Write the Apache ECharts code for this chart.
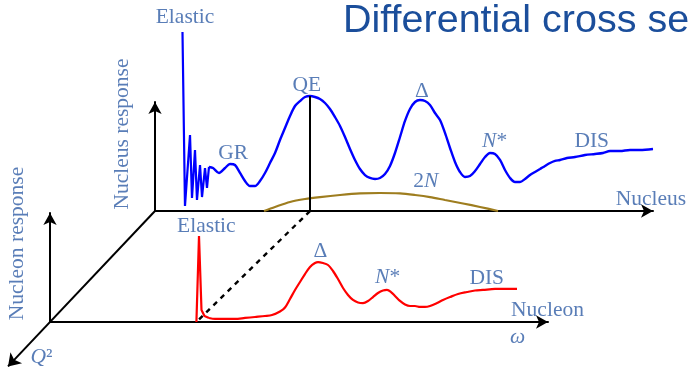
<!DOCTYPE html>
<html><head><meta charset="utf-8">
<script src="https://cdn.jsdelivr.net/npm/echarts@6/dist/echarts.min.js"></script>
<style>html,body{margin:0;padding:0;background:#fff}#c{width:689px;height:369px}</style>
</head><body><div id="c"></div>
<script>
// ---- Nucleus response (back plane): energy transfer omega vs response, axis units 0..100
const nucleusElasticOmega = [5.52, 6.02, 7.03, 7.43, 8.03, 8.43, 9.04, 9.44, 10.04, 10.44, 10.84];
const nucleusElasticResp  = [164.2, 4.6, 69.7, 11.9, 56.0, 10.1, 42.2, 12.8, 39.4, 21.1, 40.4];
const nucleusOmega = [10.84, 11.65, 12.85, 14.06, 15.06, 16.06, 17.07, 18.07, 19.08, 20.08, 21.08, 22.09, 23.09, 24.10, 25.10, 26.10, 27.11, 28.11, 29.12, 30.12, 31.12, 32.13, 33.13, 34.14, 35.14, 36.14, 37.15, 38.15, 39.16, 40.16, 41.16, 42.17, 43.17, 44.18, 45.18, 46.18, 47.19, 48.19, 49.20, 50.20, 51.20, 52.21, 53.21, 54.22, 55.22, 56.22, 57.23, 58.23, 59.24, 60.24, 61.24, 62.25, 63.25, 64.26, 65.26, 66.27, 67.27, 68.27, 69.28, 70.28, 71.29, 72.29, 73.29, 74.30, 75.30, 76.31, 77.31, 78.31, 79.32, 80.32, 81.33, 82.73, 84.34, 86.35, 88.35, 89.96, 91.37, 93.37, 95.38, 97.39, 100.0];
const nucleusResp  = [40.4, 39.4, 34.9, 39.4, 43.1, 42.2, 34.9, 27.5, 22.9, 22.9, 27.5, 34.9, 44.0, 53.2, 65.1, 76.1, 87.2, 96.3, 100.9, 104.6, 105.5, 104.6, 102.8, 99.1, 93.6, 86.2, 78.0, 67.9, 56.9, 46.8, 38.5, 33.0, 30.3, 29.4, 30.3, 33.9, 41.3, 53.2, 67.9, 82.6, 93.6, 100.0, 101.8, 100.9, 97.2, 89.9, 83.5, 71.6, 57.8, 45.0, 35.8, 31.2, 32.1, 36.7, 43.1, 49.5, 53.2, 52.3, 46.8, 37.6, 30.3, 26.6, 26.6, 29.4, 33.0, 35.8, 38.5, 41.3, 44.0, 45.9, 46.8, 48.6, 49.5, 51.4, 52.3, 53.2, 55.0, 55.0, 56.0, 56.0, 56.9];
const twoNOmega = [21.89, 24.10, 27.11, 30.12, 33.13, 37.15, 41.16, 45.18, 49.20, 52.21, 55.22, 58.23, 61.85, 65.26, 68.88];
const twoNResp  = [0, 3.7, 8.3, 11.0, 12.8, 14.7, 16.1, 16.5, 16.1, 14.7, 12.8, 10.1, 6.9, 3.7, 0];

// ---- Nucleon response (front plane)
const nucleonElasticOmega = [29.40, 29.92, 30.42, 31.02, 31.93];
const nucleonElasticResp  = [0, 78.9, 11.0, 5.5, 3.7];
const nucleonOmega = [31.93, 33.13, 35.14, 37.15, 39.16, 41.16, 43.17, 44.58, 46.18, 47.19, 48.19, 49.20, 50.20, 51.20, 52.21, 53.21, 53.82, 54.82, 55.82, 56.83, 57.83, 58.84, 59.84, 60.84, 61.85, 62.85, 63.86, 64.86, 65.86, 66.87, 67.67, 68.47, 69.28, 70.28, 71.29, 72.29, 73.29, 74.30, 75.30, 76.31, 77.71, 78.92, 80.32, 81.93, 83.73, 85.34, 86.95, 89.36, 91.37, 93.78];
const nucleonResp  = [3.7, 2.8, 2.8, 2.8, 3.7, 4.6, 5.5, 6.4, 9.6, 13.3, 21.1, 29.4, 36.7, 44.0, 50.5, 54.1, 55.0, 54.1, 52.3, 46.8, 39.4, 31.2, 24.8, 20.2, 17.9, 17.4, 19.3, 22.9, 26.6, 28.9, 29.4, 27.5, 23.9, 19.3, 16.1, 14.7, 14.7, 13.8, 13.8, 14.7, 17.4, 20.2, 22.9, 25.7, 27.5, 28.9, 29.4, 30.3, 30.3, 30.3];

// ---- Annotations (text, omega, response, rotation)
const nucleusLabelText  = ['Elastic', 'GR', 'QE', 'Δ', '{i|N}*', 'DIS', '2{i|N}', 'Nucleus', 'Nucleus response'];
const nucleusLabelOmega = [6.02, 15.7, 30.5, 53.6, 68.2, 87.7, 54.4, 99.6, -6.63];
const nucleusLabelResp  = [178.0, 53.2, 115.6, 110.1, 63.8, 64.2, 27.1, 11.0, 70.6];
const nucleusLabelRot   = [0, 0, 0, 0, 0, 0, 0, 0, 90];
const nucleonLabelText  = ['Elastic', 'Δ', '{i|N}*', 'DIS', 'Nucleon', '{i|ω}', '{i|Q}²', 'Nucleon response'];
const nucleonLabelOmega = [31.4, 54.3, 67.8, 87.7, 99.9, 93.9, -1.71, -6.53];
const nucleonLabelResp  = [87.6, 64.7, 41.3, 40.4, 11.0, -13.8, -32.1, 72.0];
const nucleonLabelRot   = [0, 0, 0, 0, 0, 0, 0, 90];

// offset of the nucleus plane origin seen in the nucleon plane's units (Q² depth)
const planeShift = [21.08, 101.8];
const q2Extent = 0.4;

const zip = (a, b) => a.map((v, i) => [v, b[i]]);
const LBL = '#2f5ca5';
const SERIF = '"Liberation Serif", "Times New Roman", serif';
const FS = 21.5;

function labelSeries(texts, om, rs, rots, gi) {
  return {
    type: 'scatter', xAxisIndex: gi, yAxisIndex: gi, symbolSize: 0, clip: false, silent: true,
    data: texts.map((t, i) => ({ value: [om[i], rs[i]], name: t,
      label: { rotate: rots[i] } })),
    label: {
      show: true, position: 'inside', formatter: p => p.name,
      color: LBL, fontFamily: SERIF, fontSize: FS,
      rich: { i: { fontStyle: 'italic', color: LBL, fontFamily: SERIF, fontSize: FS } }
    }
  };
}

function axisCfg(gi) {
  return {
    type: 'value', gridIndex: gi, min: 0, max: 100,
    axisLine: { show: true, onZero: false, symbol: ['none', 'arrow'], symbolSize: [10, 12],
      lineStyle: { color: '#000', width: 2 } },
    axisTick: { show: false }, axisLabel: { show: false }, splitLine: { show: false }
  };
}

let qeIdx = 0;
nucleusResp.forEach((v, i) => { if (v > nucleusResp[qeIdx]) qeIdx = i; });
const qeOmega = nucleusOmega[qeIdx];

const option = {
  animation: false,
  backgroundColor: '#fff',
  title: {
    text: 'Differential cross section', left: 343, top: 1, padding: 0,
    textStyle: { color: '#1b4e9b', fontFamily: '"Liberation Sans", Arial, sans-serif', fontSize: 39.5, fontWeight: 'normal' }
  },
  grid: [
    { left: 155, top: 102, width: 498, height: 109 },
    { left: 50, top: 213, width: 498, height: 109 }
  ],
  xAxis: [axisCfg(0), axisCfg(1)],
  yAxis: [axisCfg(0), axisCfg(1)],
  series: [
    { type: 'line', xAxisIndex: 0, yAxisIndex: 0, clip: false, symbol: 'none',
      data: zip(nucleusElasticOmega, nucleusElasticResp), lineStyle: { color: '#0000ff', width: 2.2 } },
    { type: 'line', xAxisIndex: 0, yAxisIndex: 0, clip: false, symbol: 'none', smooth: 0.3,
      data: zip(nucleusOmega, nucleusResp), lineStyle: { color: '#0000ff', width: 2.4 } },
    { type: 'line', xAxisIndex: 0, yAxisIndex: 0, clip: false, symbol: 'none', smooth: 0.3,
      data: zip(twoNOmega, twoNResp), lineStyle: { color: '#9e7d1f', width: 2.2 } },
    { type: 'line', xAxisIndex: 0, yAxisIndex: 0, clip: false, symbol: 'none',
      data: [[qeOmega, 0], [qeOmega, nucleusResp[qeIdx]]], lineStyle: { color: '#000', width: 2 } },
    { type: 'line', xAxisIndex: 1, yAxisIndex: 1, clip: false, symbol: 'none',
      data: zip(nucleonElasticOmega, nucleonElasticResp), lineStyle: { color: '#ff0000', width: 2.2 } },
    { type: 'line', xAxisIndex: 1, yAxisIndex: 1, clip: false, symbol: 'none', smooth: 0.3,
      data: zip(nucleonOmega, nucleonResp), lineStyle: { color: '#ff0000', width: 2.2 } },
    { type: 'lines', coordinateSystem: 'cartesian2d', xAxisIndex: 1, yAxisIndex: 1, clip: false, silent: true,
      symbol: ['none', 'none'],
      data: [{ coords: [[qeOmega + planeShift[0], planeShift[1]], [nucleonElasticOmega[0], 0]] }],
      lineStyle: { color: '#000', width: 2.4, type: [5, 5], opacity: 1, curveness: 0 } },
    { type: 'lines', coordinateSystem: 'cartesian2d', xAxisIndex: 1, yAxisIndex: 1, clip: false, silent: true,
      symbol: ['none', 'arrow'], symbolSize: [10, 12],
      data: [{ coords: [planeShift, [-planeShift[0] * q2Extent, -planeShift[1] * q2Extent]] }],
      lineStyle: { color: '#000', width: 2, opacity: 1, curveness: 0 } },
    labelSeries(nucleusLabelText, nucleusLabelOmega, nucleusLabelResp, nucleusLabelRot, 0),
    labelSeries(nucleonLabelText, nucleonLabelOmega, nucleonLabelResp, nucleonLabelRot, 1)
  ]
};
const chart = echarts.init(document.getElementById('c'), null, { renderer: 'canvas' });
chart.setOption(option);
</script></body></html>
